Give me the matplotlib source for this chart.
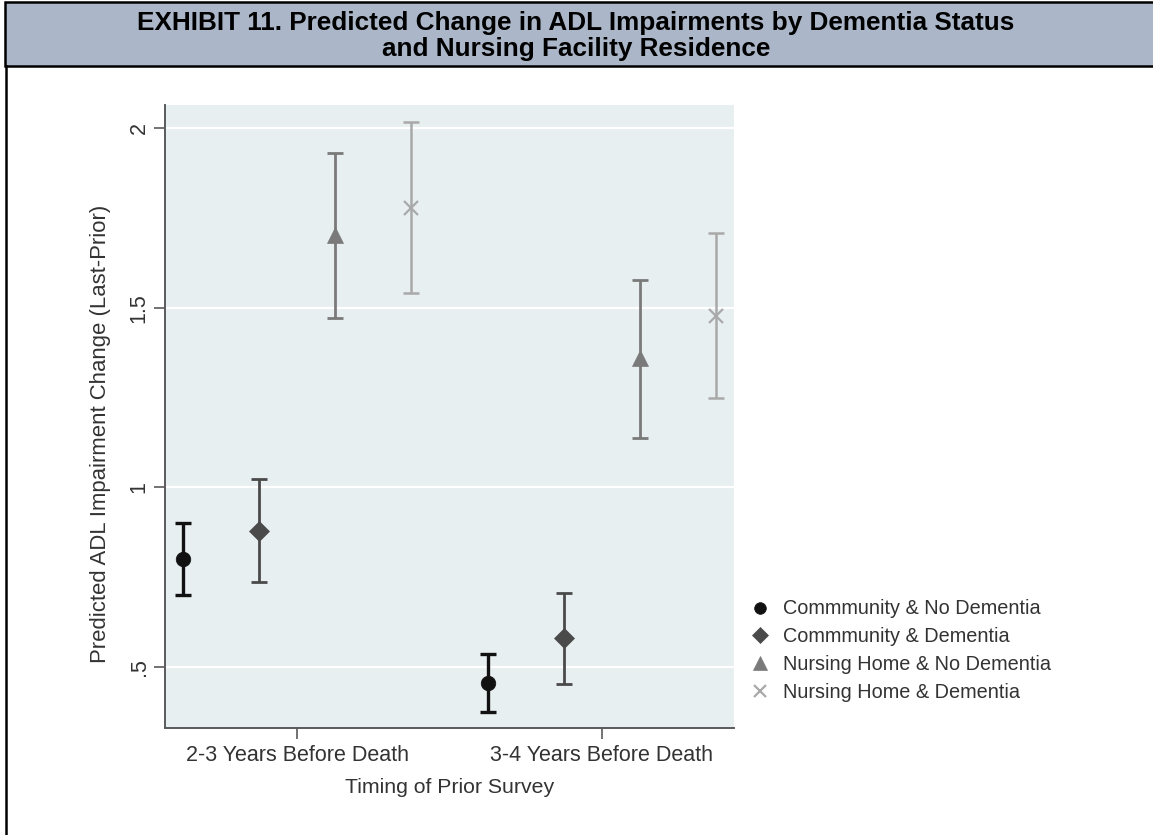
import matplotlib
matplotlib.use("Agg")
import matplotlib.pyplot as plt
from matplotlib.patches import Rectangle
from matplotlib.lines import Line2D

# --- data -------------------------------------------------------------
periods = ["2-3 Years Before Death", "3-4 Years Before Death"]
series_names = [
    "Commmunity & No Dementia",
    "Commmunity & Dementia",
    "Nursing Home & No Dementia",
    "Nursing Home & Dementia",
]
est_comm_no_dem = [0.800, 0.456]
lo_comm_no_dem = [0.700, 0.375]
hi_comm_no_dem = [0.900, 0.536]

est_comm_dem = [0.880, 0.580]
lo_comm_dem = [0.736, 0.453]
hi_comm_dem = [1.025, 0.706]

est_nh_no_dem = [1.703, 1.360]
lo_nh_no_dem = [1.472, 1.139]
hi_nh_no_dem = [1.930, 1.578]

est_nh_dem = [1.778, 1.478]
lo_nh_dem = [1.542, 1.250]
hi_nh_dem = [2.017, 1.708]

y_ticks = [0.5, 1.0, 1.5, 2.0]
y_tick_labels = [".5", "1", "1.5", "2"]

# --- styling ----------------------------------------------------------
W, H, DPI = 1153, 835, 100
plt.rcParams["font.family"] = ["Liberation Sans", "DejaVu Sans"]
text_col = "#333333"
axis_col = "#5a5a5a"
bg_col = "#e8eff1"

fig = plt.figure(figsize=(W / DPI, H / DPI), dpi=DPI)


def fx(x):
    return x / W


def fy(y):
    return 1 - y / H


# title band with border
band = Rectangle((fx(5), fy(66)), 1 - fx(5) + 0.01, fy(2) - fy(66),
                 transform=fig.transFigure, facecolor="#abb7c9",
                 edgecolor="black", linewidth=1.8, zorder=0)
fig.add_artist(band)
fig.add_artist(Line2D([fx(5.5), fx(5.5)], [fy(66), 0], transform=fig.transFigure,
                      color="black", linewidth=1.8))
fig.text(fx(576), fy(23), "EXHIBIT 11. Predicted Change in ADL Impairments by Dementia Status",
         ha="center", va="center", fontsize=18.8, fontweight="bold", color="black")
fig.text(fx(576), fy(49), "and Nursing Facility Residence",
         ha="center", va="center", fontsize=18.8, fontweight="bold", color="black")

# plot region
ax = fig.add_axes([fx(165), fy(728), fx(734) - fx(165), fy(105) - fy(728)])
ax.set_facecolor(bg_col)
ax.set_xlim(0.565, 2.435)
ax.set_ylim(0.331, 2.064)
for s in ("top", "right"):
    ax.spines[s].set_visible(False)
for s in ("left", "bottom"):
    ax.spines[s].set_color(axis_col)
    ax.spines[s].set_linewidth(1.4)

ax.set_yticks(y_ticks)
ax.set_yticklabels(y_tick_labels, rotation=90, va="center")
ax.set_xticks([1, 2])
ax.set_xticklabels(periods)
ax.tick_params(axis="both", colors=axis_col, labelcolor=text_col, length=8,
               width=1.2, labelsize=15.5)
ax.tick_params(axis="x", pad=4)
ax.tick_params(axis="y", pad=3)
ax.grid(axis="y", color="white", linewidth=1.6)
ax.set_axisbelow(True)

ax.set_ylabel("Predicted ADL Impairment Change (Last-Prior)", fontsize=15.9,
              color=text_col)
ax.yaxis.set_label_coords(-(165 - 111) / (734 - 165), (728 - 434) / (728 - 105))
ax.set_xlabel("Timing of Prior Survey", fontsize=15.3, color=text_col, labelpad=9)

styles = [
    dict(marker="o", color="#111111", ms=10.5, lw=2.4, mew=0.5),
    dict(marker="D", color="#4a4a4a", ms=10.5, lw=2.0, mew=0.5),
    dict(marker="^", color="#7a7a7a", ms=12, lw=2.0, mew=0.5),
    dict(marker="x", color="#a9a9a9", ms=10, lw=1.8, mew=1.6),
]
estimates = [est_comm_no_dem, est_comm_dem, est_nh_no_dem, est_nh_dem]
lows = [lo_comm_no_dem, lo_comm_dem, lo_nh_no_dem, lo_nh_dem]
highs = [hi_comm_no_dem, hi_comm_dem, hi_nh_no_dem, hi_nh_dem]
offsets = [-0.375, -0.125, 0.125, 0.375]

handles = []
for name, st, est, lo, hi, off in zip(series_names, styles, estimates, lows, highs, offsets):
    xs = [i + 1 + off for i in range(len(periods))]
    yerr = [[e - l for e, l in zip(est, lo)], [h - e for e, h in zip(est, hi)]]
    ax.errorbar(xs, est, yerr=yerr, fmt="none", ecolor=st["color"],
                elinewidth=st["lw"], capsize=5.5, capthick=st["lw"], zorder=3)
    ax.plot(xs, est, linestyle="none", marker=st["marker"], color=st["color"],
            markersize=st["ms"], markeredgewidth=st["mew"],
            markeredgecolor=st["color"], zorder=4)
    handles.append(Line2D([], [], linestyle="none", marker=st["marker"],
                          color=st["color"], markersize=st["ms"] * 0.8,
                          markeredgewidth=st["mew"], markeredgecolor=st["color"],
                          label=name))

leg = fig.legend(handles=handles, loc="upper left",
                 bbox_to_anchor=(fx(751), fy(599.5)), frameon=False,
                 fontsize=14.3, handlelength=0.9, handletextpad=0.7,
                 labelspacing=0.45, borderpad=0, borderaxespad=0)
for t in leg.get_texts():
    t.set_color(text_col)

fig.savefig("out.png", dpi=DPI)
